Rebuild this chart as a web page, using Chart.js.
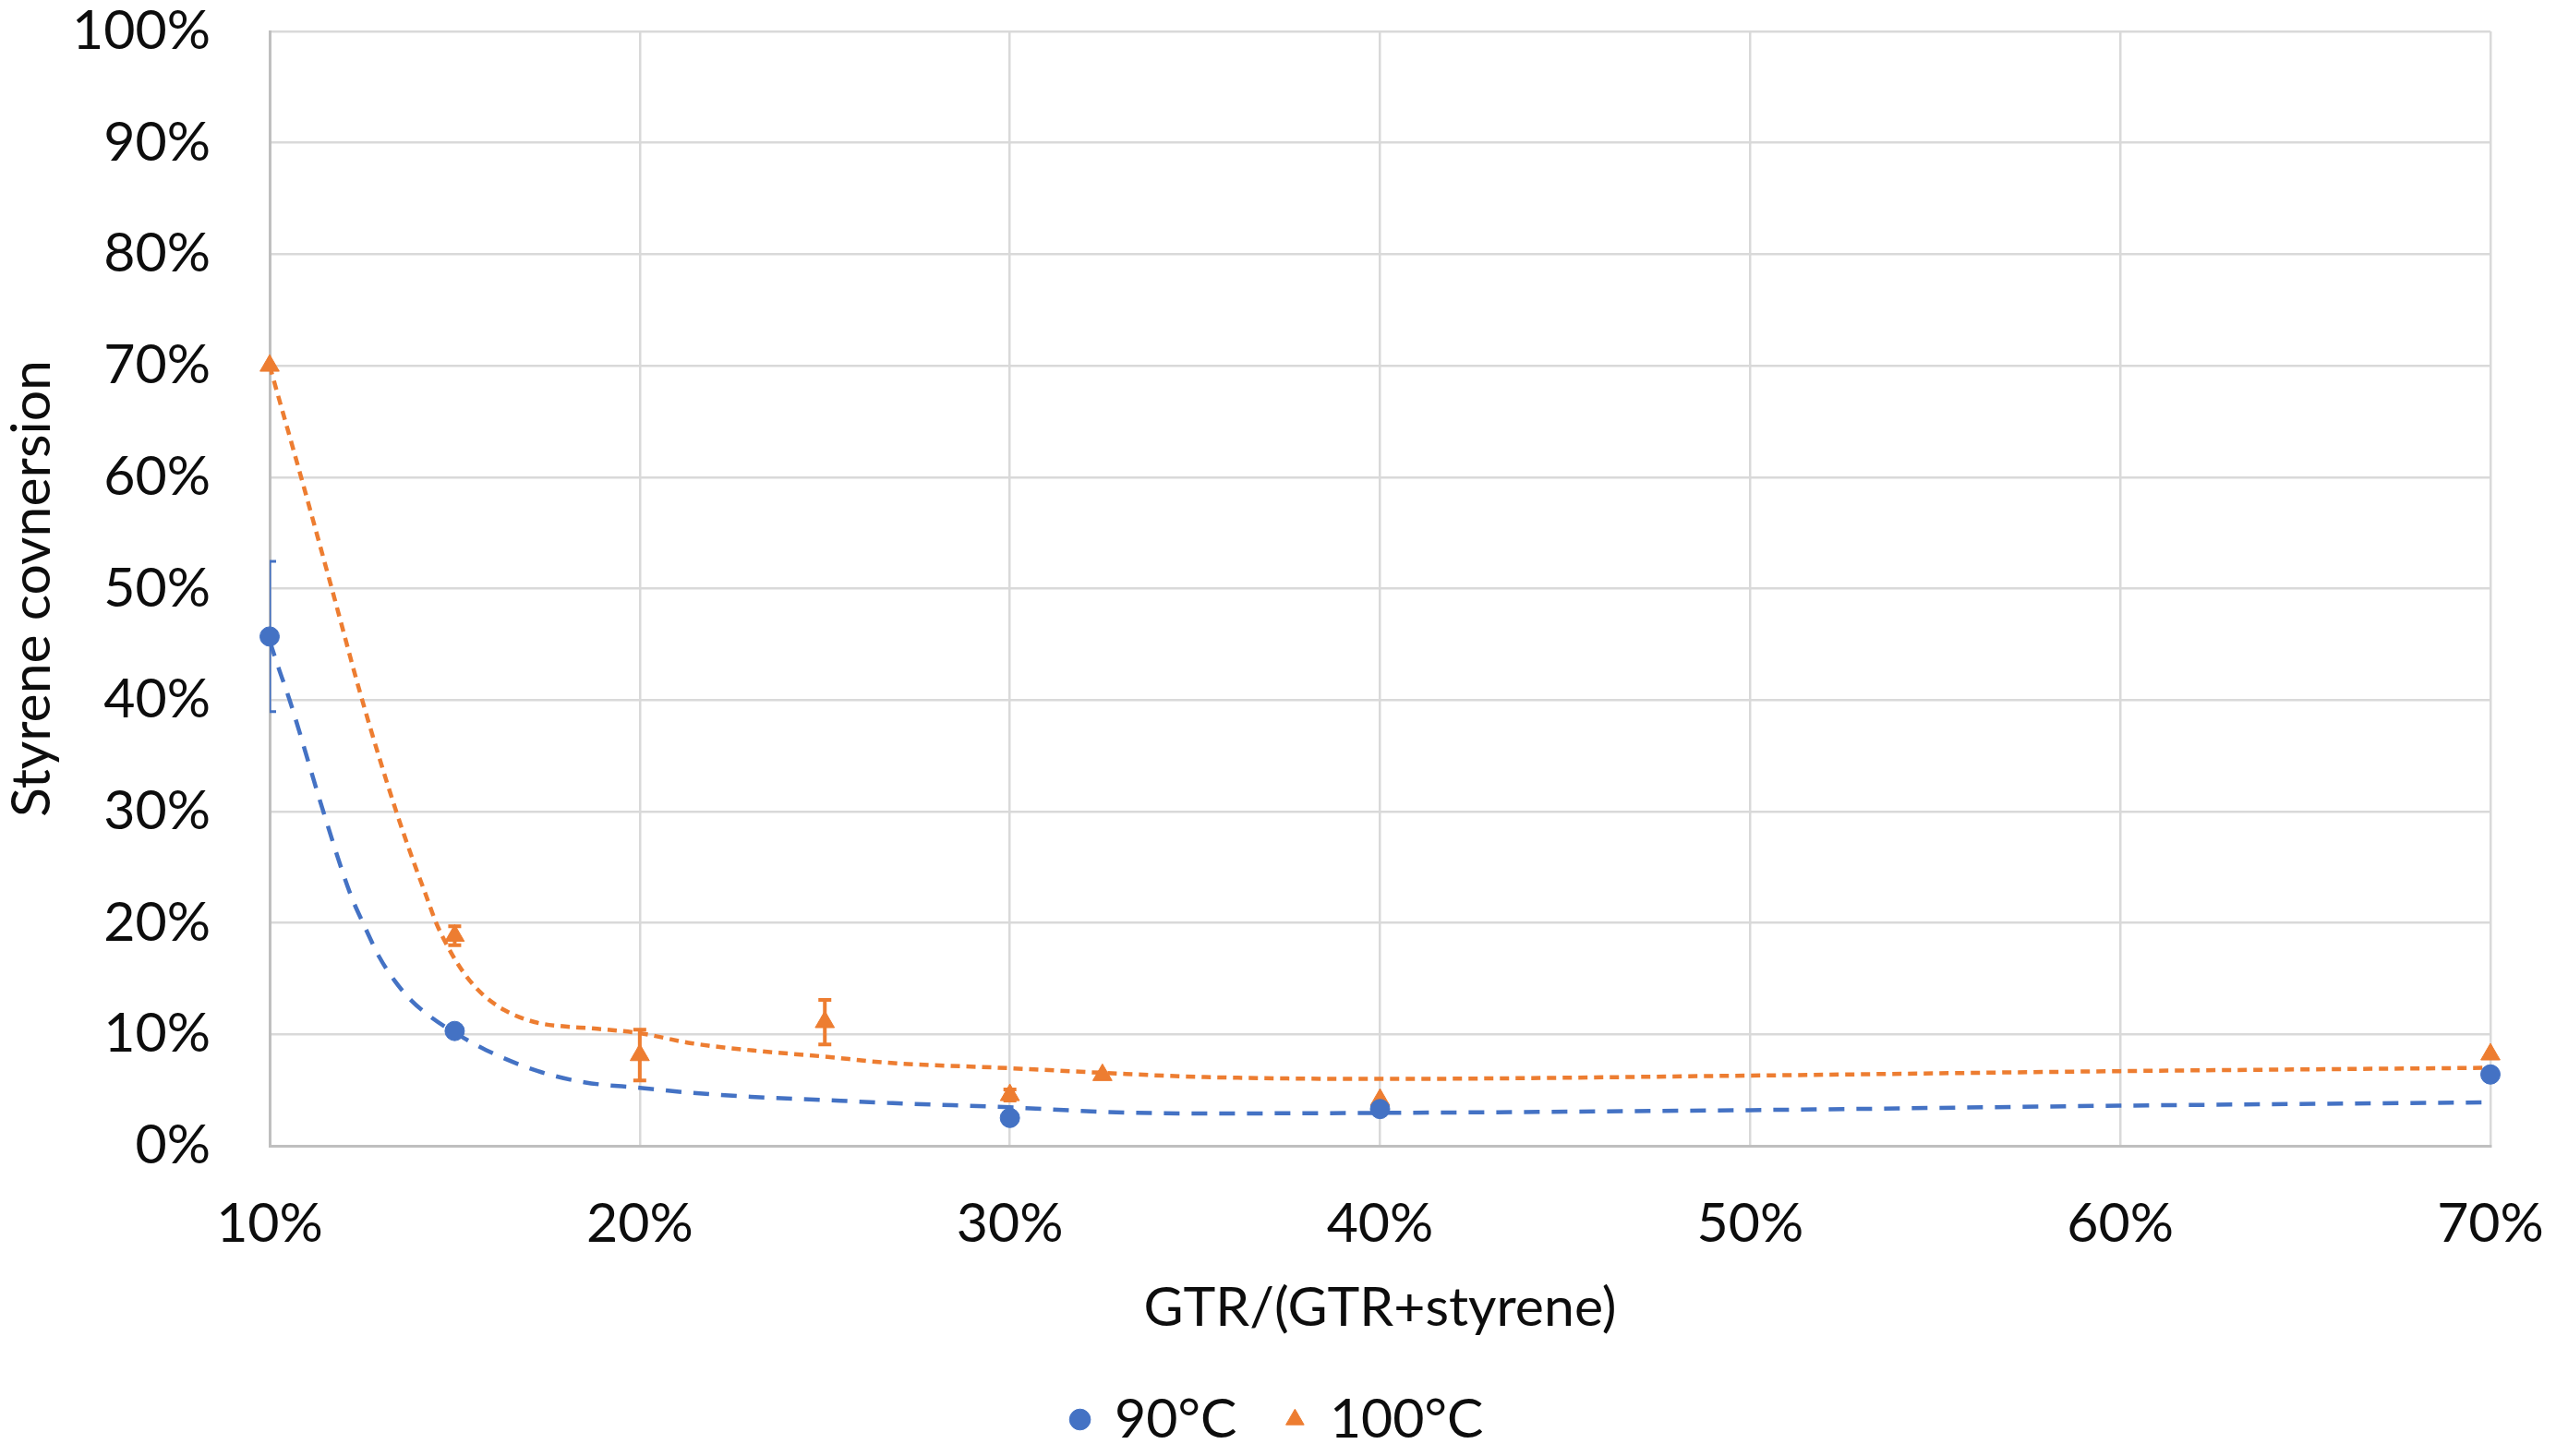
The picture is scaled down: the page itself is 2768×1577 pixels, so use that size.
<!DOCTYPE html>
<html>
<head>
<meta charset="utf-8">
<title>Styrene conversion</title>
<script src="https://cdn.jsdelivr.net/npm/chart.js@4.4.1/dist/chart.umd.min.js"></script>
<style>
  html, body { margin: 0; padding: 0; background: #ffffff; }
</style>
</head>
<body>
<canvas id="chart" width="2768" height="1577"></canvas>
<script>
// measured points, x = GTR share (%), y = styrene conversion (%)
var gtr90 = [10, 15, 30, 40, 70];
var conv90 = [45.7, 10.3, 2.5, 3.3, 6.4];
var err90 = [6.75, 0, 0, 0, 0];

var gtr100 = [10, 15, 20, 25, 30, 32.5, 40, 70];
var conv100 = [70, 18.85, 8.14, 11.1, 4.55, 6.35, 4.13, 8.2];
var err100 = [0, 0.85, 2.28, 2.0, 0.5, 0, 0, 0];

// dashed trend curves
var trendX90 = [10, 10.26, 10.54, 11.45, 12.18, 12.55, 12.97, 13.38, 13.84, 14.38, 15.03, 15.84, 17.25, 18.5, 20, 21.4, 23, 25, 26.7, 30, 32.5, 35, 40, 50, 60, 70];
var trend90 = [45.3, 42.7, 40, 30, 22.6, 19.8, 16.9, 14.8, 13.0, 11.5, 10.1, 8.6, 6.7, 5.7, 5.2, 4.75, 4.4, 4.1, 3.85, 3.45, 3.05, 2.9, 2.95, 3.2, 3.6, 3.9];

var trendX100 = [10, 10.85, 11.68, 12.5, 13.42, 13.92, 14.2, 14.5, 14.84, 15.25, 15.75, 16.33, 17.16, 17.99, 18.66, 20, 21.4, 23.07, 25, 26.67, 30, 32.5, 35, 40, 50, 60, 70];
var trend100 = [70, 60, 50, 40, 30, 25.2, 22.7, 20, 17.7, 15.5, 13.6, 12.2, 11.1, 10.7, 10.55, 10.1, 9.2, 8.55, 8.0, 7.46, 6.96, 6.55, 6.19, 6.0, 6.3, 6.7, 7.0];

var seriesNames = ["90°C", "100°C"];
var xTitle = "GTR/(GTR+styrene)";
var yTitle = "Styrene covnersion";

var blue = "#4472C4";
var orange = "#ED7D31";
var fontFamily = "Lato, 'Open Sans', sans-serif";
var textColor = "#0d0d0d";

function toPoints(xs, ys) {
  return xs.map(function (x, i) { return { x: x, y: ys[i] }; });
}

// vertical error bars, drawn with the chart's own scales
var errorBars = {
  id: "errorBars",
  beforeDatasetsDraw: function (chart) {
    var ctx = chart.ctx;
    var area = chart.chartArea;
    var xs = chart.scales.x;
    var ys = chart.scales.y;
    var sets = [
      { x: gtr90, y: conv90, e: err90, color: blue, width: 3 },
      { x: gtr100, y: conv100, e: err100, color: orange, width: 4 }
    ];
    ctx.save();
    ctx.beginPath();
    ctx.rect(area.left, area.top, area.right - area.left, area.bottom - area.top);
    ctx.clip();
    sets.forEach(function (s) {
      ctx.strokeStyle = s.color;
      ctx.lineWidth = s.width;
      s.x.forEach(function (xv, i) {
        if (!s.e[i]) return;
        var px = xs.getPixelForValue(xv);
        var top = ys.getPixelForValue(s.y[i] + s.e[i]);
        var bot = ys.getPixelForValue(s.y[i] - s.e[i]);
        ctx.beginPath();
        ctx.moveTo(px, top);
        ctx.lineTo(px, bot);
        ctx.moveTo(px - 7, top);
        ctx.lineTo(px + 7, top);
        ctx.moveTo(px - 7, bot);
        ctx.lineTo(px + 7, bot);
        ctx.stroke();
      });
    });
    ctx.restore();
  }
};

var chart = new Chart(document.getElementById("chart"), {
  type: "scatter",
  data: {
    datasets: [
      {
        label: seriesNames[0],
        data: toPoints(gtr90, conv90),
        pointStyle: "circle",
        pointRadius: 10.5,
        backgroundColor: blue,
        borderColor: blue,
        borderWidth: 1,
        clip: false,
        order: 0
      },
      {
        label: seriesNames[1],
        data: toPoints(gtr100, conv100),
        pointStyle: "triangle",
        pointRadius: 12,
        backgroundColor: orange,
        borderColor: orange,
        borderWidth: 1,
        clip: false,
        order: 0
      },
      {
        label: "trend90",
        data: toPoints(trendX90, trend90),
        showLine: true,
        pointRadius: 0,
        borderColor: blue,
        borderWidth: 4.5,
        borderDash: [17, 13],
        cubicInterpolationMode: "monotone",
        order: 1
      },
      {
        label: "trend100",
        data: toPoints(trendX100, trend100),
        showLine: true,
        pointRadius: 0,
        borderColor: orange,
        borderWidth: 4.5,
        borderDash: [10, 7],
        cubicInterpolationMode: "monotone",
        order: 1
      }
    ]
  },
  options: {
    responsive: false,
    animation: false,
    devicePixelRatio: 1,
    layout: { padding: { top: 34, right: 0, bottom: 0, left: 0 } },
    plugins: {
      tooltip: { enabled: false },
      legend: {
        position: "bottom",
        labels: {
          usePointStyle: true,
          boxWidth: 16,
          boxHeight: 16,
          padding: 55,
          color: textColor,
          font: { family: fontFamily, size: 59 },
          filter: function (item) { return item.datasetIndex < 2; }
        }
      }
    },
    scales: {
      x: {
        type: "linear",
        min: 10,
        max: 70,
        afterFit: function (scale) { scale.height = 212; },
        ticks: {
          stepSize: 10,
          padding: 0,
          color: textColor,
          font: { family: fontFamily, size: 59 },
          callback: function (v) { return v + "%"; }
        },
        grid: { color: "#D9D9D9", lineWidth: 2.5, drawTicks: true, tickLength: 50, tickColor: "rgba(0,0,0,0)" },
        border: { color: "#BFBFBF", width: 3 },
        title: {
          display: true,
          text: xTitle,
          color: textColor,
          font: { family: fontFamily, size: 59 },
          padding: { top: 0, bottom: 1 }
        }
      },
      y: {
        type: "linear",
        min: 0,
        max: 100,
        afterFit: function (scale) { scale.width = 292; },
        ticks: {
          stepSize: 10,
          padding: 0,
          color: textColor,
          font: { family: fontFamily, size: 59, lineHeight: 1 },
          callback: function (v) { return v + "%"; }
        },
        grid: { color: "#D9D9D9", lineWidth: 2.5, drawTicks: true, tickLength: 64, tickColor: "rgba(0,0,0,0)" },
        border: { color: "#BFBFBF", width: 3 },
        title: {
          display: true,
          text: yTitle,
          color: textColor,
          font: { family: fontFamily, size: 59 },
          padding: { top: 0, bottom: 0 }
        }
      },
      // empty right-hand box that keeps the plot's right edge where the original has it
      yRight: {
        type: "linear",
        position: "right",
        min: 0,
        max: 100,
        afterFit: function (scale) { scale.width = 71; },
        ticks: { display: false },
        grid: { display: false, drawTicks: false },
        border: { display: false }
      }
    }
  },
  plugins: [errorBars]
});
</script>
</body>
</html>
